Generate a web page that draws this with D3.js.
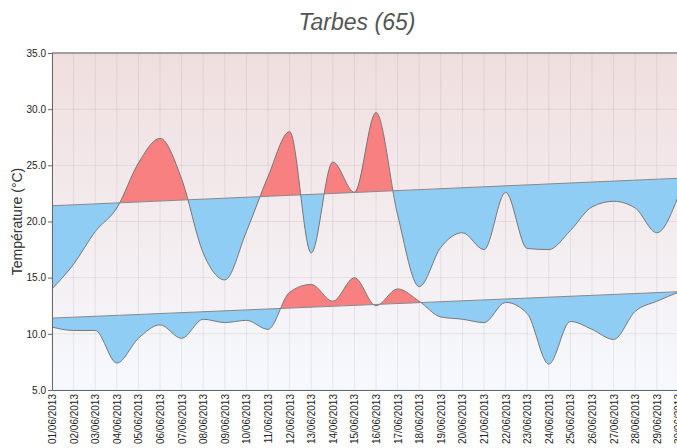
<!DOCTYPE html>
<html>
<head>
<meta charset="utf-8">
<script src="https://cdn.jsdelivr.net/npm/d3@7"></script>
<style>
  body { margin: 0; background: #fff; }
  svg { display: block; font-family: "Liberation Sans", Arial, sans-serif; }
</style>
</head>
<body>
<div id="chart"></div>
<script>
// températures de juin 2013, Tarbes
var days = d3.range(1, 31);
var tMax = [14.0, 16.2, 19.1, 21.2, 25.2, 27.4, 23.8, 17.2, 14.8, 19.1,
            24.0, 28.0, 17.2, 25.3, 22.6, 29.7, 20.6, 14.2, 17.7, 19.0,
            17.5, 22.6, 17.6, 17.5, 19.2, 21.3, 21.8, 21.2, 19.0, 22.3];
var tMin = [10.6, 10.3, 10.3, 7.4, 9.6, 10.8, 9.6, 11.3, 11.0, 11.2,
            10.4, 13.7, 14.4, 12.9, 15.0, 12.5, 14.0, 12.9, 11.5, 11.3,
            11.0, 12.8, 11.8, 7.3, 11.1, 10.4, 9.5, 12.0, 12.9, 13.7];
// normales (début et fin du mois)
var normDays = [1, 30];
var normMax = [21.4, 23.85];
var normMin = [11.4, 13.75];
var yTicks = [5, 10, 15, 20, 25, 30, 35];

var width = 677, height = 448;
var plotLeft = 52, plotTop = 53, plotRight = 678.4, plotBottom = 390;

var svg = d3.select("#chart").append("svg")
    .attr("width", width)
    .attr("height", height);

var defs = svg.append("defs");
var grad = defs.append("linearGradient")
    .attr("id", "bg").attr("x1", 0).attr("y1", 0).attr("x2", 0).attr("y2", 1);
grad.append("stop").attr("offset", "0%").attr("stop-color", "#f0dede");
grad.append("stop").attr("offset", "100%").attr("stop-color", "#f6f9fe");

var x = d3.scaleTime()
    .domain([new Date(2013, 5, 1), new Date(2013, 5, 30)])
    .range([plotLeft, plotRight]);
var y = d3.scaleLinear().domain([5, 35]).range([plotBottom, plotTop]);

function dayDate(d) { return new Date(2013, 5, d); }

// fond du graphique
svg.append("rect")
    .attr("x", plotLeft).attr("y", plotTop)
    .attr("width", width - plotLeft).attr("height", plotBottom - plotTop)
    .attr("fill", "url(#bg)");

// grille
var grid = svg.append("g").attr("stroke", "#000").attr("stroke-opacity", 0.07);
grid.selectAll("line.v").data(days).enter().append("line")
    .attr("x1", function(d) { return x(dayDate(d)); })
    .attr("x2", function(d) { return x(dayDate(d)); })
    .attr("y1", plotTop).attr("y2", plotBottom);
grid.selectAll("line.h").data(yTicks).enter().append("line")
    .attr("x1", plotLeft).attr("x2", width)
    .attr("y1", function(d) { return y(d); })
    .attr("y2", function(d) { return y(d); });

function drawSeries(vals, norm, id) {
    var ns = d3.scaleLinear().domain(normDays).range(norm);
    var data = days.map(function(d, i) { return {day: d, v: vals[i], n: ns(d)}; });
    var x0 = x(dayDate(normDays[0])), x1 = x(dayDate(normDays[1]));
    var yn0 = y(norm[0]), yn1 = y(norm[1]);

    defs.append("clipPath").attr("id", "up" + id).append("path")
        .attr("d", "M" + x0 + "," + plotTop + "L" + x1 + "," + plotTop + "L" + x1 + "," + yn1 + "L" + x0 + "," + yn0 + "Z");
    defs.append("clipPath").attr("id", "down" + id).append("path")
        .attr("d", "M" + x0 + "," + plotBottom + "L" + x1 + "," + plotBottom + "L" + x1 + "," + yn1 + "L" + x0 + "," + yn0 + "Z");

    var area = d3.area()
        .x(function(d) { return x(dayDate(d.day)); })
        .y0(function(d) { return y(d.n); })
        .y1(function(d) { return y(d.v); })
        .curve(d3.curveMonotoneX);

    svg.append("path").datum(data)
        .attr("d", area)
        .attr("fill", "#f88080")
        .attr("clip-path", "url(#up" + id + ")");
    svg.append("path").datum(data)
        .attr("d", area)
        .attr("fill", "#90cdf5")
        .attr("clip-path", "url(#down" + id + ")");

    var line = d3.line()
        .x(function(d) { return x(dayDate(d.day)); })
        .y(function(d) { return y(d.v); })
        .curve(d3.curveMonotoneX);
    svg.append("path").datum(data)
        .attr("d", line)
        .attr("fill", "none").attr("stroke", "#777").attr("stroke-width", 1);

    svg.append("line")
        .attr("x1", x0).attr("y1", yn0).attr("x2", x1).attr("y2", yn1)
        .attr("stroke", "#888").attr("stroke-width", 1);
}

drawSeries(tMax, normMax, "max");
drawSeries(tMin, normMin, "min");

// bordure haute
svg.append("line")
    .attr("x1", plotLeft).attr("x2", width).attr("y1", plotTop).attr("y2", plotTop)
    .attr("stroke", "#888").attr("stroke-width", 1.5);

// axe Y
var yAxis = svg.append("g")
    .attr("transform", "translate(" + plotLeft + ",0)")
    .call(d3.axisLeft(y).tickValues(yTicks).tickSize(4).tickPadding(2)
        .tickFormat(d3.format(".1f")));
yAxis.select(".domain").attr("stroke", "#666");
yAxis.selectAll(".tick line").attr("stroke", "#666");
yAxis.selectAll("text").attr("font-size", 10).attr("fill", "#222")
    .attr("font-family", "Liberation Sans, Arial, sans-serif");

// axe X
var xAxis = svg.append("g")
    .attr("transform", "translate(0," + plotBottom + ")")
    .call(d3.axisBottom(x).tickValues(days.map(dayDate)).tickSize(0)
        .tickFormat(d3.timeFormat("%d/%m/%Y")));
xAxis.select(".domain").attr("stroke", "#666");
xAxis.selectAll("text")
    .attr("font-size", 10).attr("fill", "#222")
    .attr("font-family", "Liberation Sans, Arial, sans-serif")
    .attr("text-anchor", "end")
    .attr("transform", "rotate(-90)")
    .attr("x", -4).attr("y", 0).attr("dy", "0.35em");

// titres
svg.append("text")
    .attr("x", 357).attr("y", 30)
    .attr("text-anchor", "middle")
    .attr("font-size", 23).attr("font-style", "italic").attr("fill", "#555")
    .text("Tarbes (65)");

svg.append("text")
    .attr("transform", "translate(22," + ((plotTop + plotBottom) / 2) + ") rotate(-90)")
    .attr("text-anchor", "middle")
    .attr("font-size", 14).attr("fill", "#333")
    .text("Température (°C)");
</script>
</body>
</html>
